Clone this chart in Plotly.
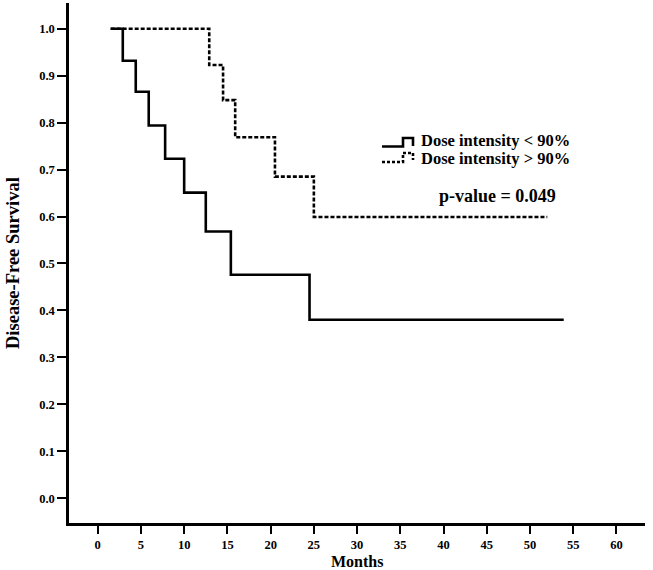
import plotly.graph_objects as go

# Kaplan-Meier step data (months, survival)
low_months = [1.5, 2.9, 4.4, 5.9, 7.8, 10.0, 12.5, 15.4, 24.5, 53.9]
low_surv = [1.0, 0.932, 0.866, 0.794, 0.723, 0.651, 0.568, 0.476, 0.38, 0.38]

high_months = [1.5, 12.9, 14.5, 15.9, 20.5, 25.0, 52.0]
high_surv = [1.0, 0.923, 0.848, 0.769, 0.685, 0.599, 0.599]

x_ticks = list(range(0, 61, 5))
y_ticks = [round(i * 0.1, 1) for i in range(11)]

legend_labels = ["Dose intensity < 90%", "Dose intensity > 90%"]
p_value_text = "p-value = 0.049"

W, H = 653, 570
ML, MR, MT, MB = 69, 8, 3, 47
PW, PH = W - ML - MR, H - MT - MB


def px(x):
    return (x - ML) / PW


def py(y):
    return (H - MB - y) / PH


SERIF = "Liberation Serif"

fig = go.Figure()
fig.add_trace(go.Scatter(x=low_months, y=low_surv, mode="lines",
                         line=dict(shape="hv", color="black", width=2.6),
                         showlegend=False, hoverinfo="skip"))
fig.add_trace(go.Scatter(x=high_months, y=high_surv, mode="lines",
                         line=dict(shape="hv", color="black", width=2.6, dash="4px,2px"),
                         showlegend=False, hoverinfo="skip"))

# Legend icons (step symbols)
def step_path(x0, y_low, x_up, y_top, x_end, y_down):
    return (f"M {px(x0)} {py(y_low)} L {px(x_up)} {py(y_low)} L {px(x_up)} {py(y_top)} "
            f"L {px(x_end)} {py(y_top)} L {px(x_end)} {py(y_down)}")

fig.add_shape(type="path", xref="paper", yref="paper",
              path=step_path(382, 146.5, 403, 138, 413, 146),
              line=dict(color="black", width=2.6))
fig.add_shape(type="path", xref="paper", yref="paper",
              path=step_path(382, 162, 403, 153, 413, 160),
              line=dict(color="black", width=2.6, dash="3px,2px"))

annotations = [
    dict(x=px(419), y=py(141), xref="paper", yref="paper", text=legend_labels[0],
         showarrow=False, xanchor="left", yanchor="middle",
         font=dict(family=SERIF, size=16.5, color="black", weight="bold")),
    dict(x=px(419), y=py(158), xref="paper", yref="paper", text=legend_labels[1],
         showarrow=False, xanchor="left", yanchor="middle",
         font=dict(family=SERIF, size=16.5, color="black", weight="bold")),
    dict(x=px(497), y=py(196), xref="paper", yref="paper", text=p_value_text,
         showarrow=False, xanchor="center", yanchor="middle",
         font=dict(family=SERIF, size=18, color="black", weight="bold")),
    dict(x=px(357), y=py(561), xref="paper", yref="paper", text="Months",
         showarrow=False, xanchor="center", yanchor="middle",
         font=dict(family=SERIF, size=16, color="black", weight="bold")),
    dict(x=px(13), y=py(263), xref="paper", yref="paper", text="Disease-Free Survival",
         showarrow=False, xanchor="center", yanchor="middle", textangle=-90,
         font=dict(family=SERIF, size=18.5, color="black", weight="bold")),
]

fig.update_layout(
    width=W, height=H,
    margin=dict(l=ML, r=MR, t=MT, b=MB),
    paper_bgcolor="white", plot_bgcolor="white",
    annotations=annotations,
    xaxis=dict(range=[-3.32, 63.3], tickvals=x_ticks, ticks="outside", ticklen=8,
               tickwidth=2, tickcolor="black", showline=True, linecolor="black",
               linewidth=2.5, showgrid=False, zeroline=False, mirror=False,
               tickfont=dict(family=SERIF, size=12.5, color="black", weight="bold")),
    yaxis=dict(range=[-0.053, 1.055], tickvals=y_ticks, tickformat=".1f",
               ticks="outside", ticklen=9, tickwidth=2, tickcolor="black",
               showline=True, linecolor="black", linewidth=2.5, showgrid=False,
               zeroline=False, mirror=False,
               tickfont=dict(family=SERIF, size=12.5, color="black", weight="bold")),
)

fig.write_html("out.html", config={"displayModeBar": False},
               post_script="document.body.style.margin='0';")
